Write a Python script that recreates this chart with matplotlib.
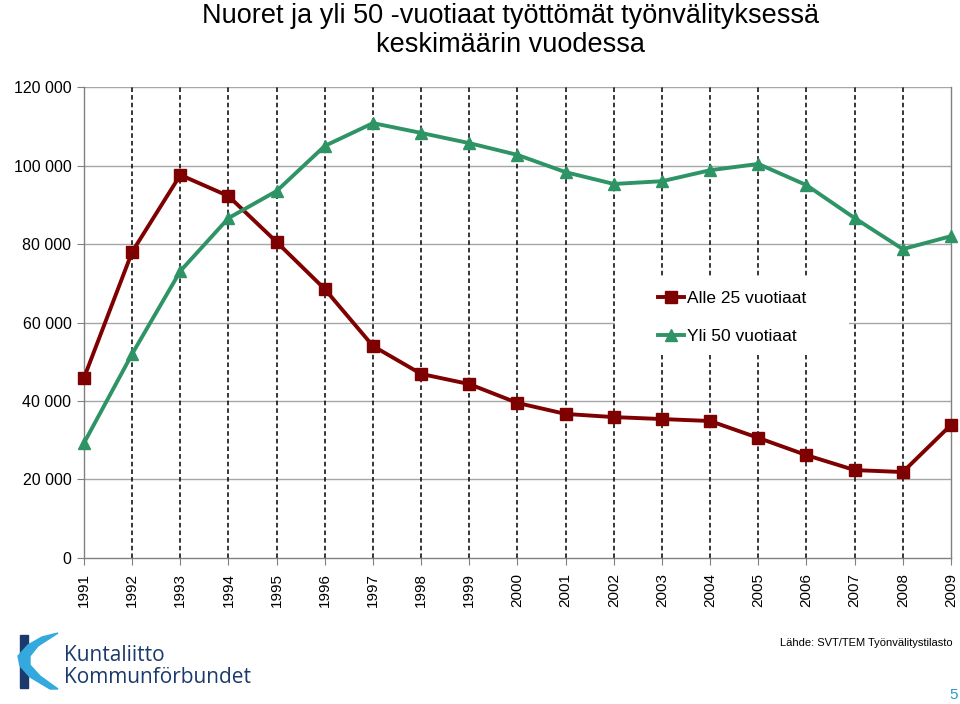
import matplotlib.pyplot as plt
import matplotlib.patches as mpatches
import numpy as np

plt.rcParams['font.family'] = ['Liberation Sans', 'DejaVu Sans']

# data
years = [1991, 1992, 1993, 1994, 1995, 1996, 1997, 1998, 1999, 2000,
         2001, 2002, 2003, 2004, 2005, 2006, 2007, 2008, 2009]
alle25 = [45900, 78000, 97600, 92200, 80500, 68500, 54000, 46900, 44300, 39500,
          36700, 35900, 35400, 34900, 30600, 26200, 22400, 21900, 33900]
yli50 = [29300, 52000, 73100, 86600, 93500, 105000, 110800, 108300, 105700, 102700,
         98300, 95300, 96000, 98800, 100400, 95000, 86600, 78700, 82000]
yticks = [0, 20000, 40000, 60000, 80000, 100000, 120000]
ylabels = ['0', '20 000', '40 000', '60 000', '80 000', '100 000', '120 000']

red = '#7f0000'
green = '#2e9466'
navy = '#1b3a6b'

fig = plt.figure(figsize=(9.6, 7.04), dpi=100)
ax = fig.add_axes([0.0875, 0.2074, 0.9031, 0.669])

# horizontal grid
for v in yticks[1:]:
    ax.axhline(v, color='#a6a6a6', lw=1, zorder=0)
# dashed vertical lines at each year
for yr in years[1:-1]:
    ax.axvline(yr, color='black', lw=1.1, ls=(0, (3, 2)), zorder=1)

ax.plot(years, alle25, color=red, lw=2.8, marker='s', markersize=8,
        label='Alle 25 vuotiaat', zorder=3, clip_on=False)
ax.plot(years, yli50, color=green, lw=2.8, marker='^', markersize=8,
        label='Yli 50 vuotiaat', zorder=3, clip_on=False)

ax.set_xlim(years[0], years[-1])
ax.set_ylim(0, 120000)
ax.set_yticks(yticks)
ax.set_yticklabels(ylabels, fontsize=11.5)
ax.set_xticks(years)
ax.set_xticklabels([str(y) for y in years], rotation=90, fontsize=11)
ax.tick_params(axis='y', length=5, color='#808080', pad=4)
ax.tick_params(axis='x', length=5, color='#808080', pad=6)
ax.spines['top'].set_visible(False)
for s in ['left', 'bottom', 'right']:
    ax.spines[s].set_color('#808080')
    ax.spines[s].set_linewidth(1)

# white legend area covering the grid
ax.add_patch(mpatches.Rectangle((2002.03, 51700), 4.85, 19600, facecolor='white',
                                edgecolor='none', zorder=4))
leg = ax.legend(loc='upper left', bbox_to_anchor=(0.662, 0.567), frameon=False,
                fontsize=12.5, handlelength=1.5, handletextpad=0.15,
                labelspacing=1.3, borderpad=0, borderaxespad=0)
leg.set_zorder(5)

fig.text(0.532, 0.9773, 'Nuoret ja yli 50 -vuotiaat työttömät työnvälityksessä',
         ha='center', va='center', fontsize=19.5)
fig.text(0.532, 0.9361, 'keskimäärin vuodessa',
         ha='center', va='center', fontsize=19.5)

fig.text(0.992, 0.0866, 'Lähde: SVT/TEM Työnvälitystilasto', ha='right', va='center',
         fontsize=8)
fig.text(0.998, 0.013, '5', ha='right', va='center', fontsize=11, color='#1f9bd1')

# simple logo, coordinates in pixels of the lower left corner
lax = fig.add_axes([0, 0, 260 / 960, 84 / 704])
lax.set_xlim(0, 260)
lax.set_ylim(704, 620)
lax.axis('off')
lax.add_patch(mpatches.Rectangle((20, 635), 8, 53, color=navy, zorder=1))
swoosh = [[58, 633], [42, 637], [28, 645], [18, 656], [20, 666], [30, 677], [50, 689],
          [58, 689], [40, 676], [30, 665], [30, 656], [38, 646], [58, 633]]
lax.add_patch(mpatches.Polygon(swoosh, closed=True, color='#33a9de', zorder=2))
lax.text(64, 655, 'Kuntaliitto', fontsize=15, color=navy, va='center',
         family=['Open Sans', 'DejaVu Sans'])
lax.text(64, 677, 'Kommunförbundet', fontsize=15, color=navy, va='center',
         family=['Open Sans', 'DejaVu Sans'])

fig.savefig('out.png', dpi=100)
